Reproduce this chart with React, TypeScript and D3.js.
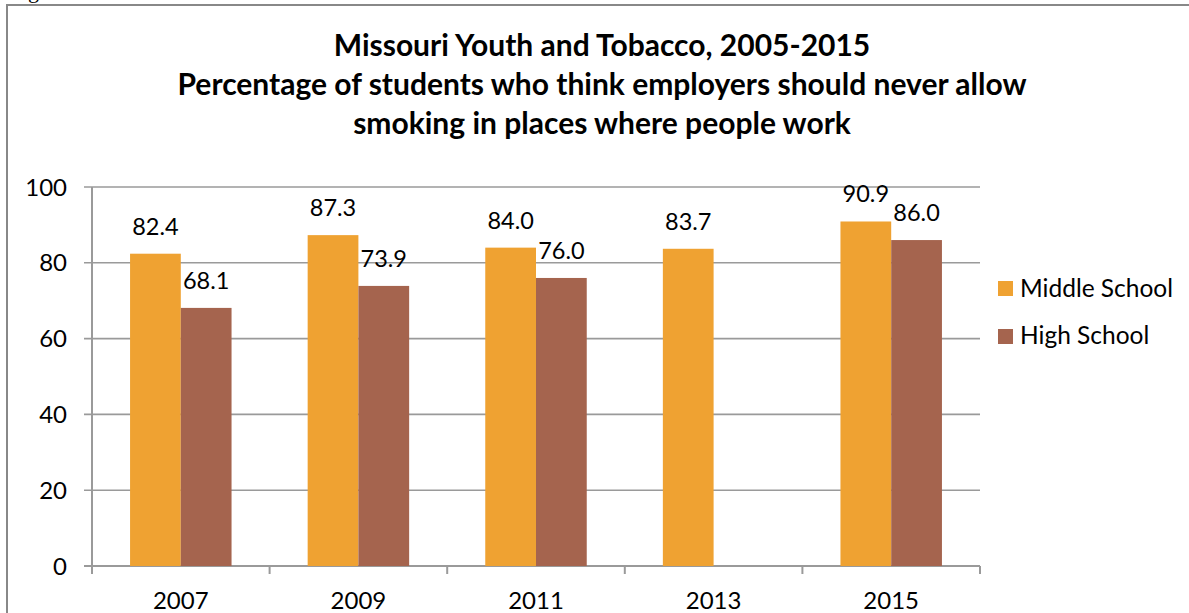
import React from "react";
import * as d3 from "d3";

const years = ["2007", "2009", "2011", "2013", "2015"];
const middleSchool: (number | null)[] = [82.4, 87.3, 84.0, 83.7, 90.9];
const highSchool: (number | null)[] = [68.1, 73.9, 76.0, null, 86.0];
const seriesNames = ["Middle School", "High School"];
const seriesColors = ["#EFA232", "#A5644E"];
const yTicks = [0, 20, 40, 60, 80, 100];
const titleLines = [
  "Missouri Youth and Tobacco, 2005-2015",
  "Percentage of students who think employers should never allow",
  "smoking in places where people work",
];

const W = 1189;
const H = 613;

export default function App() {
  const plot = { left: 92, right: 980, top: 187, bottom: 566 };
  const x = d3.scaleBand<string>().domain(years).range([plot.left, plot.right]).paddingInner(0).paddingOuter(0);
  const groupW = x.bandwidth() / 1.75;
  const xs = d3.scaleBand<string>().domain(seriesNames).range([0, groupW]);
  const y = d3.scaleLinear().domain([0, 100]).range([plot.bottom, plot.top]);
  const series = [middleSchool, highSchool];
  const font = "Lato, 'Open Sans', sans-serif";
  const gridColor = "#9A9A9A";

  return (
    <svg width={W} height={H} style={{ position: "absolute", left: 0, top: 0, background: "#fff" }}>
      <rect x={0} y={0} width={W} height={H} fill="#fff" />
      <text x={28} y={-2} fontFamily="'Liberation Serif', serif" fontSize={22} fill="#000">g</text>
      {/* frame */}
      <path d={`M7,${H + 5} L7,5 L${W + 5},5`} fill="none" stroke="#888" strokeWidth={2} />
      {/* title */}
      {titleLines.map((t, i) => (
        <text key={i} x={602} y={56 + i * 39} textAnchor="middle" fontFamily={font} fontWeight="bold" fontSize={30} fill="#000">
          {t}
        </text>
      ))}
      {/* gridlines */}
      {yTicks.map((t) => (
        <g key={t}>
          <line x1={plot.left - 8} x2={plot.right} y1={y(t)} y2={y(t)} stroke={gridColor} strokeWidth={t === 0 ? 2 : 1.6} />
          <text x={67} y={y(t) + 8.5} textAnchor="end" fontFamily={font} fontSize={24} fill="#000">{t}</text>
        </g>
      ))}
      {/* y axis */}
      <line x1={plot.left} x2={plot.left} y1={plot.top} y2={plot.bottom} stroke={gridColor} strokeWidth={2} />
      {/* x ticks */}
      {years.concat(["end"]).map((yr, i) => {
        const xx = plot.left + i * x.bandwidth();
        return <line key={yr} x1={xx} x2={xx} y1={plot.bottom} y2={plot.bottom + 8} stroke={gridColor} strokeWidth={2} />;
      })}
      {years.map((yr) => (
        <text key={yr} x={(x(yr) as number) + x.bandwidth() / 2} y={609} textAnchor="middle" fontFamily={font} fontSize={24} fill="#000">
          {yr}
        </text>
      ))}
      {/* bars */}
      {series.map((vals, si) =>
        vals.map((v, i) => {
          if (v === null) return null;
          const x0 = (x(years[i]) as number) + (x.bandwidth() - groupW) / 2 + (xs(seriesNames[si]) as number);
          return (
            <g key={`${si}-${i}`}>
              <rect x={x0} y={y(v)} width={xs.bandwidth()} height={plot.bottom - y(v)} fill={seriesColors[si]} />
              <text x={x0 + xs.bandwidth() / 2} y={y(v) - 19} textAnchor="middle" fontFamily={font} fontSize={23.5} fill="#000">
                {v.toFixed(1)}
              </text>
            </g>
          );
        })
      )}
      {/* legend */}
      {seriesNames.map((n, i) => (
        <g key={n}>
          <rect x={998} y={281 + i * 48} width={15} height={15} fill={seriesColors[i]} />
          <text x={1020} y={297 + i * 47} fontFamily={font} fontSize={24.5} fill="#000">{n}</text>
        </g>
      ))}
    </svg>
  );
}
